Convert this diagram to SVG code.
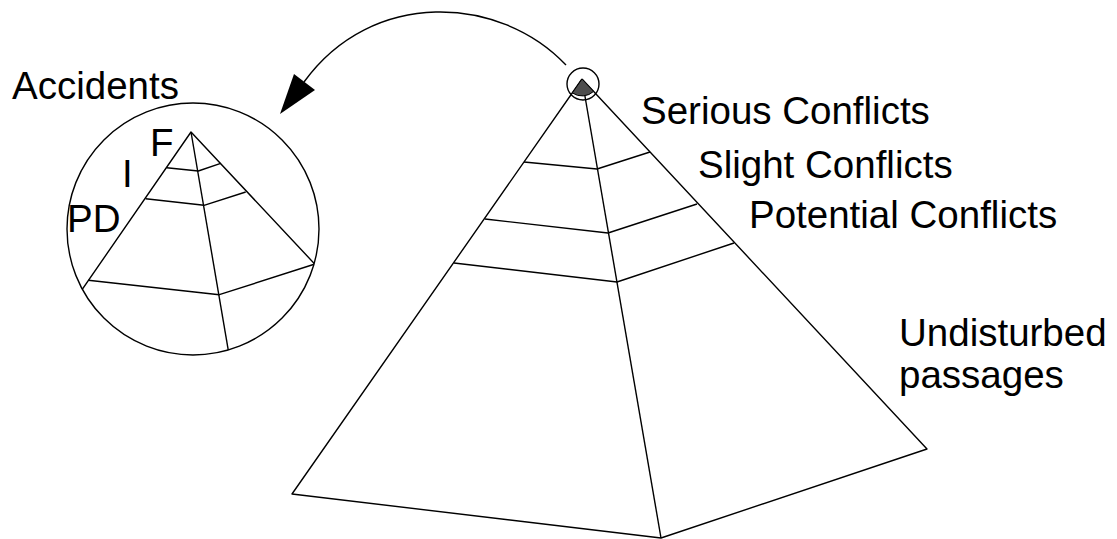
<svg xmlns="http://www.w3.org/2000/svg" width="1117" height="539" viewBox="0 0 1117 539">
<style>
.ln{fill:none;stroke:#000;stroke-width:1.4;stroke-linejoin:round}
.tx{font-family:"Liberation Sans",Arial,sans-serif;font-size:38.5px;fill:#000}
</style>
<defs>
<clipPath id="mag"><circle cx="193" cy="229" r="126"/></clipPath>
</defs>
<rect width="1117" height="539" fill="#fff"/>
<g id="pyramid">
<polyline class="ln" points="582,79 292,494 661,538 927,449 582,79"/>
<line class="ln" x1="582" y1="79" x2="661" y2="538"/>
<polyline class="ln" points="524,162 597,169 650,152"/>
<polyline class="ln" points="485,219 608,233 697,204"/>
<polyline class="ln" points="454,263 617,282 734,243"/>
</g>
<g id="apex-marker">
<path d="M582,79 L572.3,92.9 A17,17 0 0 0 593.6,91.4 Z" fill="#4d4d4d" stroke="#000" stroke-width="1"/>
<circle class="ln" cx="583" cy="84" r="16"/>
</g>
<g id="magnified">
<circle class="ln" cx="193" cy="229" r="126"/>
<g clip-path="url(#mag)">
<polyline class="ln" points="50,336 191,132 340,291"/>
<line class="ln" x1="191" y1="132" x2="232" y2="372"/>
<polyline class="ln" points="166.7,167.7 198.3,171 220.7,163.3"/>
<polyline class="ln" points="145.7,198.7 204,205.3 245.7,192"/>
<polyline class="ln" points="88.3,280.3 219.3,294.7 315,264"/>
</g>
</g>
<g id="connectors">
<path class="ln" d="M566,65 C500,-5 372,-12 304,82"/>
<polygon points="280,114 294,74 315,90" fill="#000"/>
</g>
<g id="labels">
<text class="tx" x="12" y="99">Accidents</text>
<text class="tx" x="150" y="156">F</text>
<text class="tx" x="122" y="187">I</text>
<text class="tx" x="67" y="232">PD</text>
<text class="tx" x="641" y="124">Serious Conflicts</text>
<text class="tx" x="698" y="178">Slight Conflicts</text>
<text class="tx" x="749" y="228">Potential Conflicts</text>
<text class="tx" x="899" y="346">Undisturbed</text>
<text class="tx" x="899" y="388">passages</text>
</g>
</svg>
